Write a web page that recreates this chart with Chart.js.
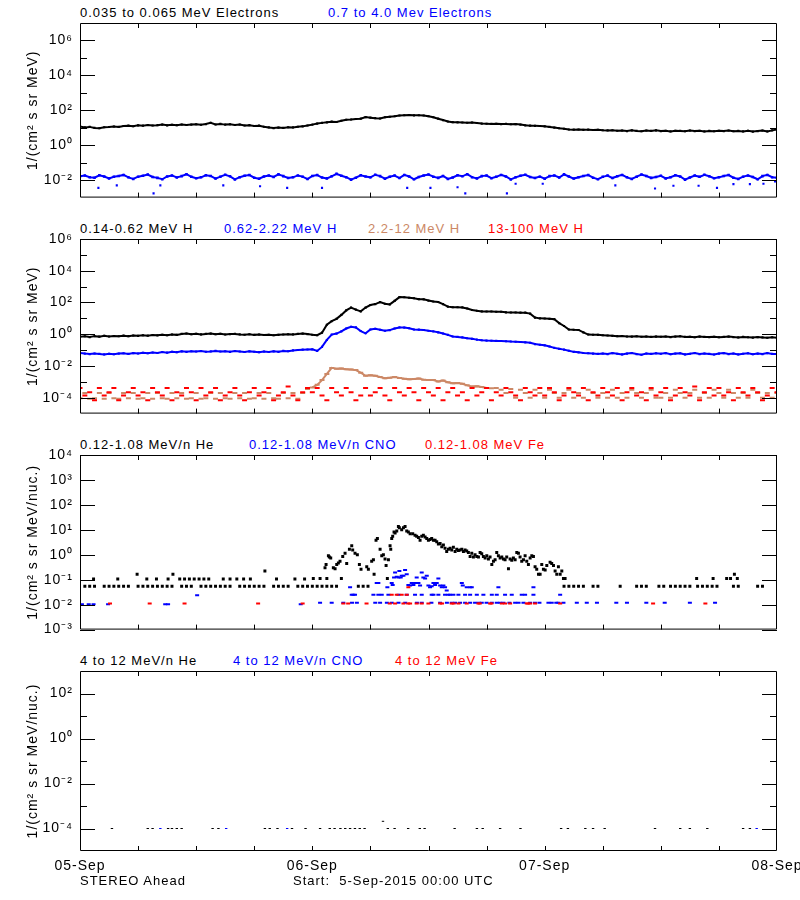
<!DOCTYPE html>
<html>
<head>
<meta charset="utf-8">
<title>STEREO Ahead particle fluxes</title>
<script src="https://cdn.jsdelivr.net/npm/chart.js@4.4.1/dist/chart.umd.min.js"></script>
<style>
  html, body { margin: 0; background: #fff; }
  body { position: relative; width: 800px; height: 900px; overflow: hidden; font-family: 'Liberation Sans', Arial, sans-serif; }
  canvas { position: absolute; left: 0; }
  .t { position: absolute; font-size: 13px; line-height: 16px; letter-spacing: 1px; white-space: pre; color: #000; }
  .blue { color: #0000ff; }
  .red { color: #ff0000; }
  .brown { color: #cc8866; }
</style>
</head>
<body>
<div class="t" style="left:80px;top:5px">0.035 to 0.065 MeV Electrons</div>
<div class="t blue" style="left:328px;top:5px">0.7 to 4.0 Mev Electrons</div>
<canvas id="p1" width="830" height="210" style="top:3px"></canvas>

<div class="t" style="left:80px;top:221px">0.14-0.62 MeV H</div>
<div class="t blue" style="left:224px;top:221px">0.62-2.22 MeV H</div>
<div class="t brown" style="left:368px;top:221px">2.2-12 MeV H</div>
<div class="t red" style="left:488px;top:221px">13-100 MeV H</div>
<canvas id="p2" width="830" height="210" style="top:219px"></canvas>

<div class="t" style="left:80px;top:437px">0.12-1.08 MeV/n He</div>
<div class="t blue" style="left:249px;top:437px">0.12-1.08 MeV/n CNO</div>
<div class="t red" style="left:425px;top:437px">0.12-1.08 MeV Fe</div>
<canvas id="p3" width="830" height="210" style="top:435px"></canvas>

<div class="t" style="left:80px;top:653px">4 to 12 MeV/n He</div>
<div class="t blue" style="left:233px;top:653px">4 to 12 MeV/n CNO</div>
<div class="t red" style="left:395px;top:653px">4 to 12 MeV Fe</div>
<canvas id="p4" width="830" height="240" style="top:651px"></canvas>

<div class="t" style="left:80px;top:873px">STEREO Ahead</div>
<div class="t" style="left:293px;top:873px">Start:  5-Sep-2015 00:00 UTC</div>

<script>
// hours since 5-Sep-2015 00:00 UTC, half-hour samples
const halfHours = Array.from({ length: 145 }, (_, i) => i / 2);
const hourTicks = [6, 12, 18, 24, 30, 36, 42, 48, 54, 60, 66];
const dayTicks = [0, 24, 48, 72];
const dayLabels = ['05-Sep', '06-Sep', '07-Sep', '08-Sep'];

// y axes: decade exponents
const p1Range = [-3, 7], p1Major = [-2, 0, 2, 4, 6], p1Minor = [-1, 1, 3, 5];
const p2Range = [-5, 6], p2Major = [-4, -2, 0, 2, 4, 6], p2Minor = [-3, -1, 1, 3, 5];
const p3Range = [-3, 4], p3Major = [-3, -2, -1, 0, 1, 2, 3, 4], p3Minor = [];
const p4Range = [-5, 3], p4Major = [-4, -2, 0, 2], p4Minor = [-3, -1, 1];

// ---- panel 1, log10 flux every half hour ----
const elecLow = [
  1.07,1.02,1.05,0.99,0.97,1.03,1.04,1.07,1.05,1.10,1.12,1.09,
  1.14,1.12,1.16,1.13,1.15,1.18,1.14,1.17,1.15,1.19,1.16,1.18,
  1.20,1.17,1.21,1.28,1.19,1.22,1.18,1.20,1.16,1.19,1.13,1.15,
  1.10,1.12,1.06,1.02,0.98,1.01,0.99,1.03,1.02,1.06,1.08,1.13,
  1.18,1.24,1.28,1.31,1.35,1.33,1.40,1.46,1.47,1.50,1.52,1.61,
  1.58,1.55,1.53,1.60,1.63,1.66,1.70,1.72,1.73,1.71,1.72,1.70,
  1.66,1.60,1.52,1.44,1.36,1.32,1.31,1.30,1.29,1.30,1.27,1.24,
  1.23,1.22,1.23,1.21,1.22,1.20,1.21,1.18,1.14,1.12,1.11,1.10,
  1.08,1.05,1.01,0.97,0.94,0.90,0.89,0.90,0.88,0.89,0.87,0.88,
  0.86,0.85,0.86,0.83,0.84,0.81,0.85,0.82,0.80,0.84,0.82,0.85,
  0.81,0.83,0.79,0.83,0.82,0.80,0.84,0.81,0.83,0.79,0.82,0.80,
  0.83,0.81,0.84,0.80,0.82,0.79,0.83,0.78,0.81,0.84,0.79,0.85,
  0.90
];
const elecHigh = [
  -1.78,-1.74,-1.83,-1.86,-1.72,-1.79,-1.90,-1.81,-1.76,-1.70,-1.84,-1.93,
  -1.80,-1.75,-1.68,-1.82,-1.87,-1.95,-1.79,-1.73,-1.85,-1.77,-1.66,-1.81,
  -1.89,-1.84,-1.72,-1.76,-1.91,-1.80,-1.69,-1.78,-1.96,-1.83,-1.75,-1.71,
  -1.86,-1.92,-1.79,-1.74,-1.82,-1.67,-1.77,-1.88,-1.84,-1.73,-1.80,-1.94,
  -1.76,-1.71,-1.85,-1.90,-1.78,-1.64,-1.75,-1.83,-1.97,-1.86,-1.72,-1.79,
  -1.84,-1.69,-1.77,-1.92,-1.81,-1.74,-1.88,-1.70,-1.79,-1.95,-1.82,-1.73,
  -1.68,-1.80,-1.87,-1.76,-1.93,-1.85,-1.72,-1.78,-1.66,-1.83,-1.90,-1.77,
  -1.74,-1.89,-1.81,-1.70,-1.79,-1.96,-1.84,-1.75,-1.69,-1.82,-1.88,-1.80,
  -1.92,-1.77,-1.73,-1.85,-1.67,-1.79,-1.91,-1.83,-1.76,-1.71,-1.86,-1.95,
  -1.81,-1.74,-1.88,-1.78,-1.70,-1.84,-1.93,-1.80,-1.68,-1.76,-1.87,-1.82,
  -1.75,-1.90,-1.83,-1.72,-1.79,-1.97,-1.85,-1.74,-1.81,-1.69,-1.78,-1.89,
  -1.84,-1.76,-1.71,-1.86,-1.93,-1.80,-1.73,-1.82,-1.95,-1.77,-1.70,-1.83,
  -1.86
];
// isolated low points of the 0.7-4.0 MeV channel [hour, log10 flux]
const elecHighLow = [
  [1.9,-2.44],[3.8,-2.30],[7.6,-2.76],[8.3,-2.30],[14.8,-2.30],[18.6,-2.35],[21.4,-2.44],[25.0,-2.44],
  [33.8,-2.44],[36.2,-2.44],[39.0,-2.41],[39.8,-2.76],[44.1,-2.76],[45.0,-2.21],[47.8,-2.21],[55.3,-2.30],
  [59.4,-2.48],[61.3,-2.32],[63.9,-2.32],[65.8,-2.44],[67.5,-2.23],[69.2,-2.23],[70.6,-2.21],[71.8,-2.08]
];

// ---- panel 2, log10 flux every half hour ----
const hLow = [
  -0.16,-0.13,-0.18,-0.12,-0.15,-0.10,-0.14,-0.11,-0.13,-0.09,-0.12,-0.08,
  -0.10,-0.06,-0.09,-0.05,-0.07,-0.03,-0.06,-0.02,-0.04,0.02,0.05,0.00,
  0.03,-0.01,0.02,0.04,0.00,0.03,-0.02,0.01,0.02,-0.01,-0.03,0.00,
  -0.04,-0.02,-0.05,-0.03,-0.06,-0.04,-0.02,0.00,-0.01,0.02,0.04,0.01,
  -0.03,-0.06,0.10,0.60,0.82,0.97,1.22,1.50,1.68,1.55,1.44,1.68,
  1.84,1.90,2.02,1.92,1.88,2.10,2.34,2.33,2.30,2.27,2.21,2.20,
  2.12,2.06,2.03,1.90,1.74,1.70,1.70,1.69,1.62,1.53,1.48,1.44,
  1.43,1.43,1.42,1.42,1.38,1.37,1.37,1.36,1.36,1.30,1.05,1.00,
  0.99,0.97,0.95,0.70,0.52,0.30,0.28,0.27,0.12,-0.02,-0.03,-0.04,
  -0.06,-0.08,-0.10,-0.12,-0.11,-0.14,-0.15,-0.13,-0.16,-0.14,-0.17,-0.15,
  -0.16,-0.14,-0.18,-0.15,-0.13,-0.17,-0.16,-0.19,-0.15,-0.17,-0.18,-0.16,
  -0.19,-0.17,-0.15,-0.18,-0.20,-0.17,-0.19,-0.21,-0.18,-0.20,-0.22,-0.19,
  -0.22
];
const hMid = [
  -1.18,-1.22,-1.25,-1.21,-1.24,-1.27,-1.23,-1.26,-1.22,-1.20,-1.24,-1.19,
  -1.21,-1.17,-1.20,-1.15,-1.18,-1.12,-1.16,-1.10,-1.13,-1.08,-1.11,-1.07,
  -1.09,-1.06,-1.10,-1.08,-1.05,-1.09,-1.07,-1.11,-1.06,-1.09,-1.12,-1.08,
  -1.10,-1.13,-1.09,-1.12,-1.08,-1.11,-1.05,-1.07,-1.02,-0.99,-0.97,-0.96,
  -0.95,-1.05,-0.80,-0.36,-0.02,0.04,0.18,0.36,0.47,0.43,0.20,0.06,
  0.30,0.34,0.28,0.22,0.26,0.36,0.43,0.42,0.38,0.30,0.29,0.27,
  0.22,0.18,0.12,0.05,-0.04,-0.14,-0.17,-0.20,-0.25,-0.29,-0.34,-0.38,
  -0.40,-0.41,-0.42,-0.43,-0.44,-0.46,-0.47,-0.49,-0.51,-0.54,-0.62,-0.66,
  -0.70,-0.77,-0.86,-0.92,-0.97,-1.04,-1.11,-1.14,-1.18,-1.20,-1.22,-1.24,
  -1.21,-1.25,-1.19,-1.23,-1.27,-1.22,-1.18,-1.25,-1.29,-1.21,-1.24,-1.20,
  -1.23,-1.19,-1.26,-1.22,-1.20,-1.27,-1.23,-1.18,-1.25,-1.21,-1.24,-1.28,
  -1.22,-1.19,-1.25,-1.21,-1.27,-1.23,-1.20,-1.26,-1.22,-1.25,-1.19,-1.24,
  -1.24
];
const hHigh = [
  -4.04,-3.70,-4.06,-4.04,-3.70,-4.06,-3.70,-4.04,-4.06,-3.70,-4.04,-3.70,
  -4.06,-4.04,-3.70,-4.06,-3.70,-4.04,-4.06,-3.70,-4.04,-3.70,-4.06,-4.04,
  -3.70,-4.06,-4.04,-3.70,-4.06,-3.70,-4.04,-4.06,-3.70,-4.04,-3.70,-4.06,
  -4.04,-3.70,-4.06,-3.70,-4.04,-4.06,-3.70,-4.04,-3.70,-4.06,-3.70,-3.45,
  -3.35,-3.19,-2.89,-2.50,-2.12,-2.18,-2.16,-2.20,-2.22,-2.26,-2.42,-2.62,
  -2.59,-2.62,-2.69,-2.77,-2.74,-2.70,-2.75,-2.81,-2.83,-2.82,-2.79,-2.86,
  -2.89,-2.88,-2.97,-2.92,-3.02,-3.09,-3.07,-3.12,-3.22,-3.30,-3.28,-3.32,
  -3.39,-3.41,-3.38,-3.50,-3.70,-3.45,-4.00,-3.50,-3.70,-4.00,-3.50,-3.70,
  -4.00,-3.50,-3.70,-4.00,-3.70,-3.50,-4.00,-3.70,-4.00,-3.50,-3.70,-4.00,
  -3.70,-4.00,-3.50,-4.00,-3.70,-4.00,-3.50,-3.70,-4.00,-3.70,-3.50,-4.00,
  -4.00,-3.70,-4.00,-3.50,-3.70,-4.00,-3.70,-3.50,-4.00,-3.70,-4.00,-3.50,
  -3.70,-4.00,-3.50,-3.70,-4.00,-3.70,-4.00,-3.50,-3.70,-4.00,-3.70,-4.00,
  -3.70
];
const hTop = [
  -3.39,-3.86,-3.66,-4.16,-3.39,-3.86,-3.66,-3.39,-4.16,-3.86,-3.66,-3.39,
  -3.86,-3.66,-4.16,-3.39,-3.66,-3.86,-3.39,-4.16,-3.66,-3.86,-3.39,-3.66,
  -4.16,-3.39,-3.86,-3.66,-3.39,-4.16,-3.86,-3.66,-3.39,-3.86,-4.16,-3.66,
  -3.39,-3.86,-3.66,-3.39,-4.16,-3.86,-3.66,-3.30,-3.86,-4.16,-3.66,-3.39,
  -3.66,-3.39,-3.86,-4.16,-3.39,-3.66,-3.86,-3.39,-3.66,-4.16,-3.86,-3.39,
  -3.86,-3.66,-3.39,-3.86,-4.16,-3.39,-3.66,-3.86,-3.39,-3.66,-4.16,-3.39,
  -3.66,-3.86,-3.39,-4.16,-3.66,-3.39,-3.86,-3.66,-4.16,-3.39,-3.86,-3.66,
  -3.39,-4.16,-3.66,-3.86,-3.39,-3.66,-3.86,-4.16,-3.39,-3.66,-3.86,-3.39,
  -3.86,-3.39,-3.66,-4.16,-3.86,-3.39,-3.66,-3.86,-3.39,-4.16,-3.66,-3.86,
  -3.39,-3.66,-3.86,-3.39,-4.16,-3.66,-3.39,-3.86,-3.66,-4.16,-3.39,-3.86,
  -3.66,-3.39,-4.16,-3.86,-3.39,-3.66,-3.86,-3.30,-4.16,-3.66,-3.39,-3.86,
  -3.39,-3.86,-3.66,-4.16,-3.39,-3.66,-3.86,-3.39,-3.66,-4.16,-3.86,-3.39,
  -3.66
];

// ---- panel 3, sparse points [hour, log10 flux] ----
const heLow = [
  [0.5,-1.26],[1,-1.26],[1.5,-1.26],[2.5,-1.26],[3,-1.26],[3.5,-1.26],[4,-1.26],[4.5,-1.26],[5,-1.26],
  [6,-1.26],[6.5,-1.26],[7,-1.26],[7.5,-1.26],[8,-1.26],[8.5,-1.26],[9,-1.26],[9.5,-1.26],
  [10.5,-1.26],[11,-1.26],[11.5,-1.26],[12.5,-1.26],[13,-1.26],[13.5,-1.26],[14,-1.26],[14.5,-1.26],
  [15,-1.26],[15.5,-1.26],[16.5,-1.26],[17,-1.26],[17.5,-1.26],[18,-1.26],[18.5,-1.26],[19,-1.26],
  [20,-1.26],[20.5,-1.26],[21,-1.26],[21.5,-1.26],[22.5,-1.26],[23,-1.26],[23.5,-1.26],[24,-1.26],
  [24.5,-1.26],[25,-1.26],[25.5,-1.26],[26,-1.26],[26.5,-1.26],[28.75,-1.26],[29.25,-1.26],[29.75,-1.26],
  [1.4,-0.97],[3.9,-0.97],[5.9,-0.78],[6.9,-0.97],[7.9,-0.97],[9.1,-0.97],[9.6,-0.78],[10.3,-0.97],
  [10.8,-0.97],[11.3,-0.97],[11.8,-0.97],[12.3,-0.97],[12.8,-0.97],[13.3,-0.97],[14.8,-0.97],[15.5,-0.97],
  [16.2,-0.97],[16.9,-0.97],[17.6,-0.97],[19.1,-0.65],[20.3,-0.97],[22.2,-0.97],[23.2,-0.97],[24.1,-0.95],
  [24.8,-0.95],[25.5,-0.95],[27.0,-0.95],
  [25.31,-0.52],[25.42,-0.39],[25.66,-0.04],[25.76,-0.09],[25.9,-0.13],[26.17,-0.52],[26.35,-0.56],
  [26.52,-0.39],[26.69,-0.33],[26.86,-0.26],[27.14,-0.07],[27.38,0.06],[27.55,-0.35],[27.83,0.22],
  [28.07,0.36],[28.17,0.19],[28.41,0.06],[28.65,0.00],[28.86,-0.39],[29.03,-0.58],[29.62,-0.48],
  [29.79,-0.58],[30.13,-0.26],[30.31,-0.20],[30.38,-0.78],[30.58,0.58],[30.72,0.65],[31.0,0.22],
  [31.17,-0.04],[31.34,0.00],[31.51,-0.17],[31.62,-0.43],[31.75,-0.95],[31.86,-0.20],[32.03,0.36],
  [32.1,0.22],[32.2,0.65],[32.3,0.74],[32.44,0.91],[32.55,0.87],[32.72,0.95],[32.89,1.13],[32.99,1.08],
  [33.23,1.00],[33.41,1.08],[33.58,1.13],[33.75,0.95],[33.92,0.91],[34.1,0.84],[34.37,0.84],[34.61,0.78],
  [34.78,0.74],[34.96,0.69],[35.13,0.58],[35.3,0.74],[35.47,0.78],[35.65,0.71],[35.82,0.65],[35.99,0.58],
  [36.16,0.61],[36.33,0.65],[36.51,0.58],[36.68,0.58],[36.85,0.52],[37.02,0.43],[37.2,0.45],[37.37,0.32],
  [37.54,0.39],[37.71,0.26],[37.88,0.13],[38.06,0.22],
  [38.23,0.26],[38.4,0.19],[38.57,0.30],[38.75,0.13],[38.92,0.22],[39.09,0.17],[39.26,0.19],[39.44,0.22],
  [39.61,0.13],[39.78,0.19],[39.95,0.15],[40.12,0.09],[40.3,-0.07],[40.47,0.06],[40.64,-0.09],[40.81,0.00],
  [40.99,-0.07],[41.16,-0.09],[41.33,0.09],[41.5,0.04],[41.67,-0.07],[41.85,-0.13],[42.02,-0.04],[42.19,-0.17],
  [42.36,-0.09],[42.54,-0.39],[42.71,-0.26],[42.88,-0.20],[43.05,0.09],[43.22,-0.04],[43.4,-0.13],[43.57,-0.09],
  [43.74,-0.17],[43.91,-0.20],[44.08,-0.09],[44.26,-0.56],[44.43,-0.17],[44.6,-0.22],[44.77,-0.13],[44.95,-0.20],
  [45.12,0.09],[45.29,0.06],[45.46,-0.09],[45.63,-0.26],[45.81,-0.20],[45.98,-0.04],[46.15,-0.26],[46.32,-0.39],
  [46.5,-0.13],[46.67,-0.04],[46.84,-0.07],[47.01,-0.48],[47.18,-0.58],[47.36,-0.78],[47.53,-0.78],[47.7,-0.39],
  [47.87,-0.58],[48.05,-0.61],[48.22,-0.43],[48.56,-0.30],[48.73,-0.35],[48.91,-0.43],[49.08,-0.65],[49.25,-0.78],
  [49.42,-0.48],[49.6,-0.78],[49.77,-0.65],[49.94,-0.95],[50.11,-0.95],
  [50,-1.26],[50.5,-1.26],[51,-1.26],[51.5,-1.26],[52,-1.26],[53,-1.26],[53.5,-1.26],[55.8,-1.26],
  [57.5,-1.26],[58,-1.26],[58.5,-1.26],[59.8,-1.26],[60.3,-1.26],[61,-1.26],[61.5,-1.26],[62,-1.26],
  [62.5,-1.26],[63,-1.26],[63.8,-1.26],[64.3,-1.26],[64.8,-1.26],[65.3,-1.26],[65.8,-1.26],[67.5,-1.26],
  [68,-1.26],[70,-1.26],[70.5,-1.26],
  [63.7,-0.95],[65.4,-0.95],[66.8,-0.95],[67.2,-0.95],[67.6,-0.78],[67.9,-0.95]
];
const cnoLow = [
  [0.2,-1.98],[0.9,-1.98],[1.4,-1.98],[2.9,-1.98],[8.8,-1.98],[9.1,-1.98],[12.1,-1.62],[22.8,-1.98],
  [24.8,-1.92],[26.0,-1.92],[27.2,-1.92],[28.1,-1.92],[28.6,-1.92],[30.5,-1.92],[31.0,-1.92],[31.7,-1.92],
  [32.2,-1.92],[32.9,-1.92],[33.6,-1.92],[34.8,-1.92],[35.3,-1.92],[36.3,-1.92],[37.2,-1.92],[37.9,-1.92],
  [38.4,-1.92],[38.75,-1.92],[39.26,-1.92],[39.78,-1.92],[40.3,-1.92],[40.81,-1.92],[41.2,-1.92],[41.5,-1.92],
  [42.0,-1.92],[42.54,-1.92],[43.05,-1.92],[43.4,-1.92],[43.74,-1.92],[44.36,-1.92],[44.95,-1.92],[45.3,-1.92],
  [45.81,-1.92],[46.5,-1.92],[47.0,-1.92],[47.46,-1.92],[48.39,-1.92],[48.73,-1.92],[49.2,-1.92],[49.42,-1.92],
  [49.94,-1.92],[51.32,-1.92],[52.35,-1.92],[53.4,-1.92],[55.4,-1.92],[56.5,-1.92],[58.5,-1.92],[60.4,-1.92],
  [63.0,-1.92],[65.6,-1.92],
  [28.07,-1.6],[28.24,-1.6],[28.41,-1.6],[30.31,-1.6],[30.82,-1.6],[31.17,-1.6],[31.86,-1.6],[32.89,-1.6],
  [33.75,-1.6],[34.61,-1.6],[35.3,-1.6],[36.33,-1.6],[36.51,-1.6],[37.02,-1.6],[37.71,-1.6],[38.06,-1.6],
  [38.23,-1.6],[38.57,-1.6],[39.09,-1.6],[39.78,-1.6],[40.3,-1.6],[40.99,-1.6],[41.67,-1.6],[42.54,-1.6],
  [43.05,-1.6],[43.91,-1.6],[44.6,-1.6],[45.63,-1.6],[45.98,-1.6],[46.84,-1.6],[49.6,-1.6],
  [27.9,-1.30],[30.65,-1.13],[30.82,-1.13],[31.75,-1.30],[32.2,-1.13],[32.3,-1.21],[32.44,-0.91],[32.55,-0.71],
  [32.72,-0.88],[32.89,-0.91],[32.99,-0.65],[33.13,-0.91],[33.23,-0.84],[33.41,-0.84],[33.58,-0.61],[33.75,-0.78],
  [33.92,-1.21],[34.1,-1.23],[34.27,-1.13],[34.44,-1.21],[34.61,-1.13],[34.78,-0.91],[34.96,-1.13],[35.13,-1.23],
  [35.3,-0.71],[35.47,-0.91],[35.65,-0.95],[35.82,-0.84],[35.99,-1.23],[36.16,-1.30],[36.33,-1.26],[36.51,-1.13],
  [36.68,-1.21],[36.85,-1.13],[37.02,-0.95],[37.2,-1.23],[37.37,-1.30],[37.54,-1.23],[37.71,-1.30],[37.88,-1.43],
  [39.44,-1.13],[39.54,-1.23],[39.95,-1.30],[40.3,-1.30],[40.47,-1.30],[43.22,-1.30],[46.84,-1.30]
];
const feLow = [
  [3.1,-1.95],[7.2,-1.95],[10.8,-1.95],[18.4,-1.95],[23.0,-1.95],[27.2,-1.95],[27.7,-1.95],[29.6,-1.95],
  [32.0,-1.95],[32.2,-1.6],[32.55,-1.95],[32.72,-1.6],[33.23,-1.6],[33.41,-1.95],[33.75,-1.6],[33.9,-1.95],
  [33.92,-1.3],[34.1,-1.95],[34.78,-1.95],[35.3,-1.95],[35.99,-1.95],[37.2,-1.95],[37.4,-1.95],[38.4,-1.95],
  [38.6,-1.95],[39.1,-1.95],[39.95,-1.95],[41.16,-1.95],[41.3,-1.95],[42.36,-1.95],[42.5,-1.95],[43.57,-1.95],
  [43.91,-1.95],[44.43,-1.95],[46.15,-1.95],[46.3,-1.95],[46.5,-1.95],[47.01,-1.95],[49.6,-1.95],[59.2,-1.95],
  [64.6,-1.95]
];

// ---- panel 4, sparse points [hour, log10 flux] ----
const heHigh = [
  [3.3,-4],[7.0,-4],[7.5,-4],[9.1,-4],[9.5,-4],[10.0,-4],[10.5,-4],[13.7,-4],[14.3,-4],[19.1,-4],
  [19.6,-4],[20.4,-4],[21.9,-4],[23.3,-4],[24.8,-4],[25.8,-4],[26.3,-4],[26.9,-4],[27.4,-4],[27.9,-4],
  [28.4,-4],[28.9,-4],[29.4,-4],[31.3,-3.68],[31.8,-4],[32.5,-4],[33.9,-4],[35.1,-4],[35.6,-4],[38.7,-4],
  [41.0,-4],[41.6,-4],[43.4,-4],[45.5,-4],[49.7,-4],[50.4,-4],[52.2,-4],[53.0,-4],[54.2,-4],[59.4,-4],
  [62.0,-4],[63.0,-4],[64.8,-4],[68.5,-4],[69.2,-4]
];
const cnoHigh = [[8.3,-4],[15.1,-4],[21.4,-4],[69.9,-4]];
const feHigh = [];

const BLACK = '#000000', BLUE = '#0000ff', RED = '#ff0000', BROWN = '#cc8866';
const SUP = { '-': '\u207B', '0': '\u2070', '1': '\u00B9', '2': '\u00B2', '3': '\u00B3', '4': '\u2074',
  '5': '\u2075', '6': '\u2076', '7': '\u2077', '8': '\u2078', '9': '\u2079' };

Chart.defaults.font.family = "'Liberation Sans', Arial, sans-serif";
Chart.defaults.color = '#000';

function powLabel(v) {
  const e = Math.round(Math.log10(v));
  return '10' + String(e).split('').map(c => SUP[c]).join('');
}
const halfHourly = logs => logs.map((v, i) => ({ x: halfHours[i], y: Math.pow(10, v) }));
const fromPairs = pairs => pairs.map(([t, v]) => ({ x: t, y: Math.pow(10, v) }));
const decades = exps => exps.map(e => Math.pow(10, e));

function lineSet(label, data, color, width, order, radius) {
  return { label, data, order, showLine: true, borderColor: color, borderWidth: width,
    pointStyle: 'rect', pointRadius: radius || 1.5, pointHoverRadius: 0,
    pointBackgroundColor: color, pointBorderWidth: 0 };
}
function dotSet(label, data, color, style, radius, bw, order) {
  return { label, data, order, showLine: false, pointStyle: style, pointRadius: radius, pointHoverRadius: 0,
    pointBackgroundColor: color, pointBorderColor: color, pointBorderWidth: bw };
}

// box round the plot and inward ticks on all four sides
const frameTicks = {
  id: 'frameTicks',
  beforeDraw(chart) {
    // the original plot font is widely spaced
    chart.ctx.letterSpacing = '1px';
  },
  afterDatasetsDraw(chart, args, opts) {
    const { ctx, chartArea: a } = chart;
    const x = chart.scales.x, y = chart.scales.y;
    ctx.save();
    ctx.strokeStyle = '#000';
    ctx.lineWidth = 1;
    ctx.beginPath();
    ctx.rect(a.left + 0.5, a.top + 0.5, a.right - a.left - 1, a.bottom - a.top - 1);
    hourTicks.forEach(h => {
      const px = Math.round(x.getPixelForValue(h)) + 0.5;
      ctx.moveTo(px, a.top); ctx.lineTo(px, a.top + 5);
      ctx.moveTo(px, a.bottom); ctx.lineTo(px, a.bottom - 5);
    });
    const mark = (v, len) => {
      const py = Math.round(y.getPixelForValue(v)) + 0.5;
      ctx.moveTo(a.left, py); ctx.lineTo(a.left + len, py);
      ctx.moveTo(a.right, py); ctx.lineTo(a.right - len, py);
    };
    decades(opts.major).forEach(v => mark(v, 15));
    decades(opts.minor).forEach(v => mark(v, 7));
    ctx.stroke();
    ctx.restore();
  }
};

function panel(id, o) {
  const showDays = !!o.showDays;
  return new Chart(document.getElementById(id), {
    type: 'scatter',
    data: { datasets: o.datasets },
    options: {
      responsive: false,
      animation: false,
      devicePixelRatio: 1,
      events: [],
      layout: { padding: { left: 0, right: 53, top: 20, bottom: 10 } },
      plugins: {
        legend: { display: false },
        tooltip: { enabled: false },
        frameTicks: { major: o.major, minor: o.minor }
      },
      scales: {
        x: {
          type: 'linear', min: 0, max: 72, display: showDays,
          afterBuildTicks: s => { s.ticks = dayTicks.map(v => ({ value: v })); },
          afterFit: s => { s.height = showDays ? 30 : 0; },
          grid: { display: false, drawTicks: false },
          border: { display: false },
          ticks: { color: '#000', padding: 7, maxRotation: 0, autoSkip: false, font: { size: 14 },
            callback: (v, i) => dayLabels[i] }
        },
        y: {
          type: 'logarithmic', min: Math.pow(10, o.range[0]), max: Math.pow(10, o.range[1]),
          afterBuildTicks: s => { s.ticks = decades(o.major).map(v => ({ value: v })); },
          afterFit: s => { s.width = 80; },
          grid: { display: false, drawTicks: false },
          border: { display: false },
          ticks: { color: '#000', padding: 7, autoSkip: false, font: { size: 14 }, callback: v => powLabel(v) },
          title: { display: true, text: o.yTitle, color: '#000', font: { size: 14 }, padding: { top: 25, bottom: 0 } }
        }
      }
    },
    plugins: [frameTicks]
  });
}

const perMeV = '1/(cm\u00B2 s sr MeV)';
const perNuc = '1/(cm\u00B2 s sr MeV/nuc.)';

panel('p1', {
  range: p1Range, major: p1Major, minor: p1Minor, yTitle: perMeV,
  datasets: [
    lineSet('0.035 to 0.065 MeV Electrons', halfHourly(elecLow), BLACK, 2, 1),
    lineSet('0.7 to 4.0 Mev Electrons', halfHourly(elecHigh), BLUE, 2, 2, 1.8),
    dotSet('0.7 to 4.0 Mev Electrons (low)', fromPairs(elecHighLow), BLUE, 'rect', 1.5, 0, 2)
  ]
});

const brownSet = dotSet('2.2-12 MeV H', halfHourly(hHigh), BROWN, 'line', 2.5, 2, 3);
brownSet.showLine = true;
brownSet.borderWidth = 2;
brownSet.borderColor = BROWN;
brownSet.segment = {
  borderColor: c => (c.p0.parsed.y > 4e-4 && c.p1.parsed.y > 4e-4) ? BROWN : 'rgba(0,0,0,0)'
};

panel('p2', {
  range: p2Range, major: p2Major, minor: p2Minor, yTitle: perMeV,
  datasets: [
    lineSet('0.14-0.62 MeV H', halfHourly(hLow), BLACK, 2, 1),
    lineSet('0.62-2.22 MeV H', halfHourly(hMid), BLUE, 2, 2),
    brownSet,
    dotSet('13-100 MeV H', halfHourly(hTop), RED, 'line', 2.5, 2, 0)
  ]
});

panel('p3', {
  range: p3Range, major: p3Major, minor: p3Minor, yTitle: perNuc,
  datasets: [
    dotSet('0.12-1.08 MeV/n He', fromPairs(heLow), BLACK, 'rect', 2.1, 0, 1),
    dotSet('0.12-1.08 MeV/n CNO', fromPairs(cnoLow), BLUE, 'line', 2, 2, 2),
    dotSet('0.12-1.08 MeV Fe', fromPairs(feLow), RED, 'line', 2, 2, 0)
  ]
});

panel('p4', {
  range: p4Range, major: p4Major, minor: p4Minor, yTitle: perNuc, showDays: true,
  datasets: [
    dotSet('4 to 12 MeV/n He', fromPairs(heHigh), BLACK, 'line', 1.2, 1, 1),
    dotSet('4 to 12 MeV/n CNO', fromPairs(cnoHigh), BLUE, 'line', 1.2, 1, 2),
    dotSet('4 to 12 MeV Fe', fromPairs(feHigh), RED, 'line', 1.2, 1, 0)
  ]
});
</script>
</body>
</html>
